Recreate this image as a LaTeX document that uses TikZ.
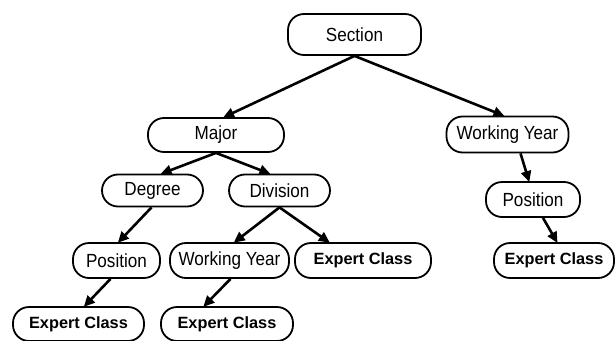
\documentclass[tikz,border=0pt]{standalone}
\usepackage{fontspec}
\setmainfont{Liberation Sans}[FakeStretch=0.9]
\newfontfamily\leaffont{Liberation Sans}
\usetikzlibrary{arrows.meta}
\begin{document}
\begin{tikzpicture}[x=1pt,y=-1pt,
  pill/.style={draw, line width=1.8pt, rounded corners=16pt, inner sep=0pt,
    font=\fontsize{19}{22}\selectfont},
  leaf/.style={pill, font=\leaffont\fontsize{16.3}{19}\selectfont\bfseries},
  link/.style={line width=2.6pt, -{Triangle[length=11pt,width=10pt]}, shorten >=-1pt}
]
\useasboundingbox (0,0) rectangle (615,340);
% tree levels
\node[pill, minimum width=133pt, minimum height=41pt] (sec) at (354.5,34.5) {Section};
\node[pill, minimum width=136pt, minimum height=34pt] (maj) at (216,135) {Major};
\node[pill, minimum width=122pt, minimum height=36pt] (wyr) at (507.5,134.5) {Working Year};
\node[pill, minimum width=101pt, minimum height=32pt] (deg) at (152.5,190.5) {Degree};
\node[pill, minimum width=101pt, minimum height=32pt] (div) at (279.5,190.5) {Division};
\node[pill, minimum width=94pt, minimum height=35pt] (posr) at (533,199.5) {Position};
\node[pill, minimum width=87pt, minimum height=35pt] (posl) at (116.5,260.5) {Position};
\node[pill, minimum width=119pt, minimum height=35pt] (wym) at (229.5,260.5) {Working Year};
\node[leaf, minimum width=136pt, minimum height=35pt] (ecm) at (363,260.5) {Expert Class};
\node[leaf, minimum width=120pt, minimum height=35pt] (ecr) at (554,260.5) {Expert Class};
\node[leaf, minimum width=131pt, minimum height=34pt] (ecbl) at (78.5,324) {Expert Class};
\node[leaf, minimum width=132pt, minimum height=34pt] (ecbm) at (227,324) {Expert Class};
% connectors
\draw[link] (sec.south) -- ([xshift=8pt]maj.north);
\draw[link] (sec.south) -- ([xshift=-4pt]wyr.north);
\draw[link] (maj.south) -- ([xshift=9pt]deg.north);
\draw[link] (maj.south) -- ([xshift=-10pt]div.north);
\draw[link] ([xshift=-1pt]deg.south) -- ([xshift=2pt]posl.north);
\draw[link] (div.south) -- ([xshift=5pt]wym.north);
\draw[link] (div.south) -- ([xshift=-34pt]ecm.north);
\draw[link] ([xshift=-6pt]posl.south) -- ([xshift=6pt]ecbl.north);
\draw[link] ([xshift=1pt]wym.south) -- ([xshift=-23pt]ecbm.north);
\draw[link] ([xshift=13pt]wyr.south) -- ([xshift=-4pt]posr.north);
\draw[link] ([xshift=10pt]posr.south) -- ([xshift=3pt]ecr.north);
\end{tikzpicture}
\end{document}
